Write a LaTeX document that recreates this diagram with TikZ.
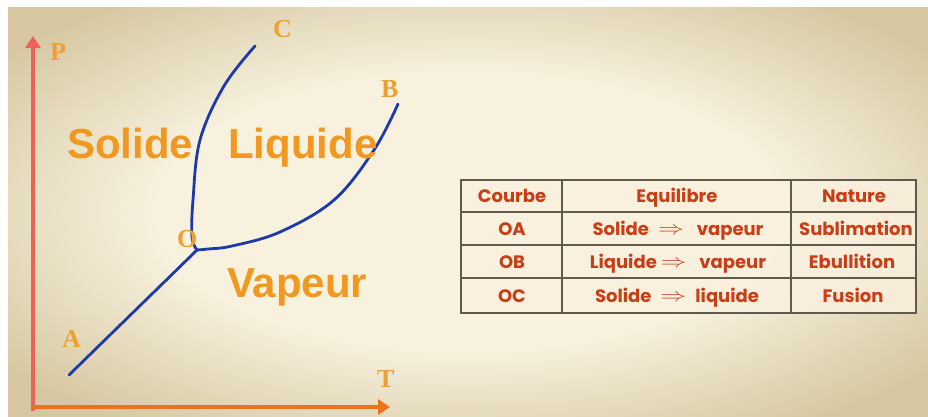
\documentclass[tikz,border=0pt]{standalone}
\usepackage{fontspec}
\usepackage{graphicx}
\setmainfont{Liberation Sans}
\newfontfamily\serifletters{Liberation Serif}
\newfontfamily\tabfont{Poppins}
\usetikzlibrary{arrows.meta}
\definecolor{bglight}{RGB}{247,241,222}
\definecolor{bgdark}{RGB}{214,199,160}
\definecolor{labelorange}{RGB}{240,152,32}
\definecolor{letterorange}{RGB}{238,160,50}
\definecolor{curveblue}{RGB}{28,58,170}
\definecolor{axisred}{RGB}{236,98,88}
\definecolor{axisorange}{RGB}{240,112,32}
\definecolor{tabline}{RGB}{95,90,75}
\definecolor{tabfill}{RGB}{250,240,222}
\definecolor{tabtext}{RGB}{200,62,22}
\pgfdeclareradialshading{bgshade}{\pgfpoint{0bp}{0bp}}{color(0bp)=(bglight); color(17bp)=(bglight); color(32bp)=(bgdark); color(50bp)=(bgdark)}
\newcommand{\implarrow}{\raisebox{0.1ex}{\scalebox{1.5}[1.1]{$\Rightarrow$}}}
\begin{document}
\begin{tikzpicture}[x=1pt,y=-1pt,
  region/.style={anchor=base west, inner sep=0pt, text=labelorange,
    font=\bfseries\fontsize{42}{42}\selectfont},
  letter/.style={anchor=base west, inner sep=0pt, text=letterorange,
    font=\serifletters\bfseries\fontsize{26}{26}\selectfont},
  curve/.style={curveblue, line width=2.8pt, line cap=round, line join=round},
  axisline/.style={line width=4.5pt, -{Triangle[length=12pt,width=15pt]}},
  tabcell/.style={anchor=base, inner sep=0pt, text=tabtext,
    font=\tabfont\bfseries\fontsize{18}{18}\selectfont},
  tabrule/.style={tabline, line width=1.8pt}
]
\useasboundingbox (0,0) rectangle (928,416);
\fill[white] (0,0) rectangle (928,416);
\shade[shading=bgshade] (8,7) rectangle (928,416);

% axes
\coordinate (origin) at (33,407);
\coordinate (ptop) at (33,36);
\coordinate (tend) at (390,407);
\draw[axisline, axisred] (33,411) -- (ptop);
\draw[axisline, axisorange] (31,407) -- (tend);

% curve points
\coordinate (O) at (197,250);
\coordinate (A) at (69,375);
\coordinate (B) at (398,104);
\coordinate (C) at (255,46);
\draw[curve] (O) -- (A);
\draw[curve] plot[smooth, tension=0.6] coordinates {(O) (192,237) (193,200) (200,140) (224,86) (C)};
\draw[curve] plot[smooth, tension=0.6] coordinates {(O) (208,249) (232,246) (280,232) (334,200) (374,150) (B)};

% letters
\node[letter] (lP) at (50,60) {P};
\node[letter] (lC) at (273,37) {C};
\node[letter] (lB) at (381,97) {B};
\node[letter] (lO) at (177,247) {O};
\node[letter] (lA) at (62,347) {A};
\node[letter] (lT) at (377,387) {T};

% regions
\node[region] (solide) at (67,158) {Solide};
\node[region] (liquide) at (228,158) {Liquide};
\node[region] (vapeur) at (227,297) {Vapeur};

% table
\fill[tabfill, opacity=0.85] (461,180) rectangle (916,313);
\draw[tabrule] (461,180) rectangle (916,313);
\draw[tabrule] (562,180) -- (562,313);
\draw[tabrule] (791,180) -- (791,313);
\draw[tabrule] (461,212) -- (916,212);
\draw[tabrule] (461,245) -- (916,245);
\draw[tabrule] (461,278) -- (916,278);

\node[tabcell] (h1) at (512,202) {Courbe};
\node[tabcell] (h2) at (677,202) {Equilibre};
\node[tabcell] (h3) at (854,202) {Nature};
\node[tabcell] (r1a) at (512,235) {OA};
\node[tabcell] (r1b) at (678,235) {Solide\enspace\implarrow\enspace\ vapeur};
\node[tabcell] (r1c) at (856,235) {Sublimation};
\node[tabcell] (r2a) at (512,268) {OB};
\node[tabcell] (r2b) at (678,268) {Liquide\ \implarrow\enspace\ vapeur};
\node[tabcell] (r2c) at (852,268) {Ebullition};
\node[tabcell] (r3a) at (512,302) {OC};
\node[tabcell] (r3b) at (677,302) {Solide\enspace\implarrow\enspace liquide};
\node[tabcell] (r3c) at (853,302) {Fusion};
\end{tikzpicture}
\end{document}
